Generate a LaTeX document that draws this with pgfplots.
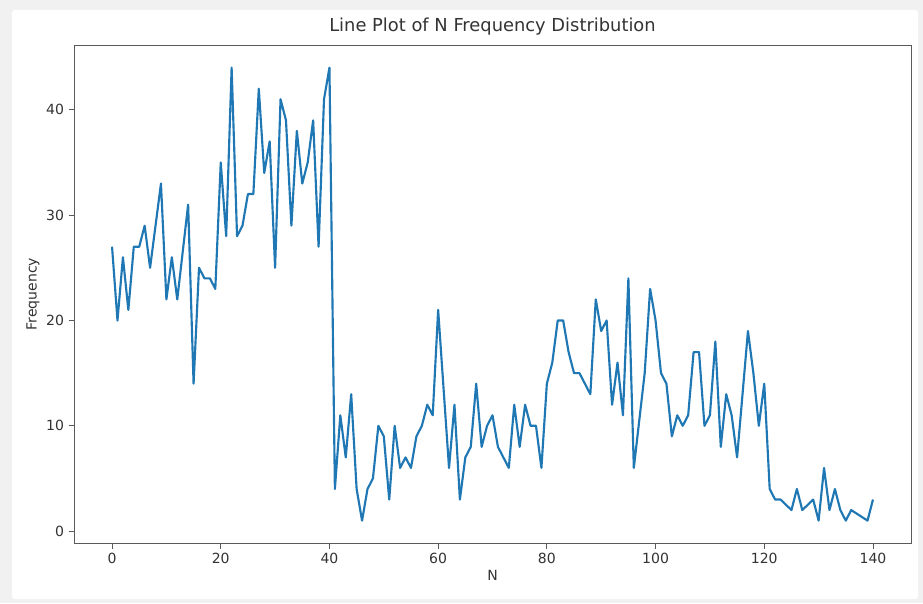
\documentclass[border=0pt]{standalone}
\usepackage{fontspec}
\setmainfont{DejaVu Sans}
\usepackage{pgfplots}
\pgfplotsset{compat=1.18}
\usetikzlibrary{backgrounds,calc}

\definecolor{mplblue}{RGB}{31,119,180}
\definecolor{framegray}{RGB}{241,241,241}
\definecolor{spinegray}{RGB}{90,90,90}

\begin{document}
\begin{tikzpicture}
  \begin{axis}[
    name=ax,
    scale only axis,
    width=627.75pt,
    height=373.7pt,
    xmin=-7, xmax=147,
    ymin=-1.15, ymax=46.15,
    xtick={0,20,...,140},
    ytick={0,10,...,40},
    tick align=outside,
    tick pos=left,
    major tick length=4pt,
    every tick/.style={spinegray, line width=0.6pt},
    axis line style={spinegray, line width=0.6pt},
    /pgf/number format/assume math mode=true,
    tick label style={font=\fontsize{10.5}{12}\selectfont, text=black!80},
    label style={font=\fontsize{10.5}{12}\selectfont, text=black!80},
    title style={font=\fontsize{13.4}{16}\selectfont, text=black!80, yshift=-2pt},
    title={Line Plot of N Frequency Distribution},
    xlabel={N},
    ylabel={Frequency},
    xlabel style={yshift=2pt},
    ylabel style={yshift=-2pt},
  ]
    \addplot[mplblue, line width=1.6pt, line join=round] coordinates {
      (0,27) (1,20) (2,26) (3,21) (4,27) (5,27) (6,29) (7,25) (9,33)
      (10,22) (11,26) (12,22) (14,31) (15,14) (16,25) (17,24) (18,24) (19,23)
      (20,35) (21,28) (22,44) (23,28) (24,29) (25,32) (26,32) (27,42) (28,34) (29,37)
      (30,25) (31,41) (32,39) (33,29) (34,38) (35,33) (36,35) (37,39) (38,27) (39,41)
      (40,44) (41,4) (42,11) (43,7) (44,13) (45,4) (46,1) (47,4) (48,5) (49,10)
      (50,9) (51,3) (52,10) (53,6) (54,7) (55,6) (56,9) (57,10) (58,12) (59,11)
      (60,21) (62,6) (63,12) (64,3) (65,7) (66,8) (67,14) (68,8) (69,10)
      (70,11) (71,8) (72,7) (73,6) (74,12) (75,8) (76,12) (77,10) (78,10) (79,6)
      (80,14) (81,16) (82,20) (83,20) (84,17) (85,15) (86,15) (87,14) (88,13) (89,22)
      (90,19) (91,20) (92,12) (93,16) (94,11) (95,24) (96,6) (98,15) (99,23)
      (100,20) (101,15) (102,14) (103,9) (104,11) (105,10) (106,11) (107,17) (108,17) (109,10)
      (110,11) (111,18) (112,8) (113,13) (114,11) (115,7) (117,19) (118,15) (119,10)
      (120,14) (121,4) (122,3) (123,3) (125,2) (126,4) (127,2) (129,3)
      (130,1) (131,6) (132,2) (133,4) (134,2) (135,1) (136,2) (139,1)
      (140,3)
    };
  \end{axis}
  \begin{scope}[on background layer]
    \fill[framegray] ($(ax.south west)+(-55.5pt,-44.8pt)$) rectangle ($(ax.north east)+(9pt,33.75pt)$);
    \fill[white, rounded corners=2pt] ($(ax.south west)+(-46.5pt,-41.8pt)$) rectangle ($(ax.north east)+(5.25pt,26.25pt)$);
  \end{scope}
\end{tikzpicture}
\end{document}
